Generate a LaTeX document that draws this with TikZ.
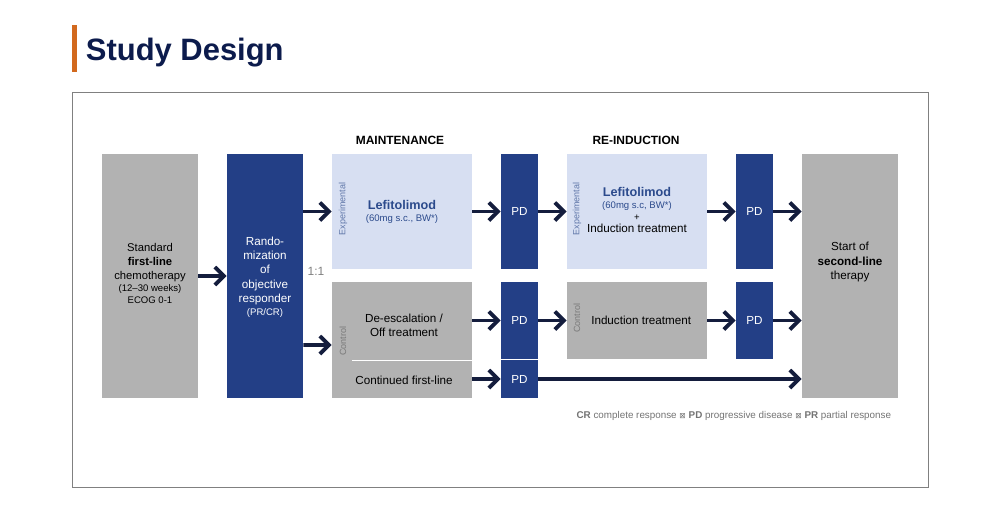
\documentclass[tikz,border=0pt]{standalone}
\usepackage{fontspec}
\setmainfont{Liberation Sans}
\newfontfamily\symfont{DejaVu Sans}
\usetikzlibrary{arrows.meta}

\definecolor{navy}{HTML}{0C1B4C}
\definecolor{accent}{HTML}{D2691E}
\definecolor{boxgray}{HTML}{B2B2B2}
\definecolor{boxblue}{HTML}{233F86}
\definecolor{paleblue}{HTML}{D7DFF2}
\definecolor{arrowc}{HTML}{141D3D}
\definecolor{labblue}{HTML}{2B4A8C}

\tikzset{
  sz/.style 2 args={rectangle,inner sep=0pt,minimum width=#1*0.025cm,minimum height=#2*0.025cm},
  graybox/.style={fill=boxgray,align=center,font=\fontsize{8}{10}\selectfont},
  bluebox/.style={fill=boxblue,text=white,align=center,font=\fontsize{8.3}{10.2}\selectfont},
  palebox/.style={fill=paleblue,align=center,font=\fontsize{8.3}{9.6}\selectfont},
  sidelab/.style={rotate=90,font=\fontsize{6.4}{7}\selectfont},
  head/.style={font=\bfseries\fontsize{8.5}{10}\selectfont},
  arr/.style={arrowc,line width=2.7pt,-{Straight Barb[length=2.3mm,width=4.5mm]}},
}
\newcommand{\smalltxt}[1]{{\fontsize{6.8}{7.4}\selectfont #1}}

\begin{document}
\begin{tikzpicture}[x=0.025cm,y=-0.025cm]
    \useasboundingbox (0,0) rectangle (1000,520);
    \fill[accent] (72,25) rectangle (77,72);
    \node[anchor=west,text=navy,font=\bfseries\fontsize{22}{26}\selectfont] (title) at (81,53) {Study Design};
    \draw[gray,line width=0.6pt] (72,92) rectangle (928,487);

    \node[head] (hmaint) at (400,140) {MAINTENANCE};
    \node[head] (hreind) at (636,140) {RE-INDUCTION};

    \node[sz={96}{244},graybox] (chemo) at (150,276) {};
    \node[align=center,font=\fontsize{8}{10}\selectfont] (chemotxt) at (150,273)
        {Standard\\ \textbf{first-line}\\ chemotherapy\\[-1pt] \smalltxt{(12–30 weeks)}\\[-2pt] \smalltxt{ECOG 0-1}};
    \node[sz={76}{244},bluebox] (rand) at (265,276) {};
    \node[align=center,text=white,font=\fontsize{8.3}{10.2}\selectfont] (randtxt) at (265,277)
        {Rando-\\ mization\\ of\\ objective\\ responder\\[-1pt] \smalltxt{(PR/CR)}};
    \node[text=gray,font=\fontsize{8.5}{10}\selectfont] (ratio) at (316,271) {1:1};

    \node[sz={140}{115},palebox] (expm) at (402,211.5)
        {\textcolor{labblue}{\bfseries\fontsize{9}{10}\selectfont Lefitolimod}\\[-1pt] \textcolor{labblue}{\smalltxt{(60mg s.c., BW*)}}};
    \node[sz={140}{116},graybox] (ctlm) at (402,340) {};
    \node (deesc) at (404,325) [align=center,font=\fontsize{8.3}{10}\selectfont] {De-escalation /\\ Off treatment};
    \node (contd) at (404,380) [font=\fontsize{8.3}{10}\selectfont] {Continued first-line};
    \draw[white,line width=0.6pt] (352,360) -- (ctlm.east |- 0,360);
    \node[sidelab,text=labblue!75] (lexpm) at (343,209) {Experimental};
    \node[sidelab,text=gray!95!black] (lctlm) at (343,341) {Control};

    \node[sz={37}{115},bluebox] (pd1) at (519.5,211.5) {PD};
    \node[sz={37}{77},bluebox] (pd2) at (519.5,320.5) {PD};
    \node[sz={37}{38},bluebox] (pd3) at (519.5,379) {PD};

    \node[sz={140}{115},palebox] (expr) at (637,211.5) {};
    \node[align=center,font=\fontsize{8.3}{9.6}\selectfont] (exprtxt) at (637,210)
        {\textcolor{labblue}{\bfseries\fontsize{9}{10}\selectfont Lefitolimod}\\[-1pt] \textcolor{labblue}{\smalltxt{(60mg s.c, BW*)}}\\[-1pt] \smalltxt{+}\\[-1pt] Induction treatment};
    \node[sz={140}{77},graybox,font=\fontsize{8.3}{10}\selectfont] (ctlr) at (637,320.5) {\hspace*{6pt}Induction treatment};
    \node[sidelab,text=labblue!75] (lexpr) at (577,209) {Experimental};
    \node[sidelab,text=gray!95!black] (lctlr) at (577,318) {Control};

    \node[sz={37}{115},bluebox] (pd4) at (754.5,211.5) {PD};
    \node[sz={37}{77},bluebox] (pd5) at (754.5,320.5) {PD};
    \node[sz={96}{244},graybox] (second) at (850,276) {};
    \node[align=center,font=\fontsize{8.3}{10}\selectfont] (secondtxt) at (850,262)
        {Start of\\ \textbf{second-line}\\ therapy};

    \foreach \a/\b in {chemo/rand,rand/expm,expm/pd1,ctlm/pd2,ctlm/pd3,pd1/expr,pd2/ctlr,expr/pd4,ctlr/pd5}
        \draw[arr] (\a.east |- \b.west) -- (\b.west);
    \foreach \a in {pd4,pd5,pd3}
        \draw[arr] (\a.east) -- (second.west |- \a.east);
    \draw[arr] (rand.east |- 0,345) -- ([yshift=-0.125cm]ctlm.west);

    \node[anchor=east,text=gray!90!black,font=\fontsize{7}{8}\selectfont] (note) at (896,415.5)
        {\textbf{CR} complete response {\symfont\fontsize{5.5}{6}\selectfont ⊠} \textbf{PD} progressive disease {\symfont\fontsize{5.5}{6}\selectfont ⊠} \textbf{PR} partial response};
\end{tikzpicture}
\end{document}
